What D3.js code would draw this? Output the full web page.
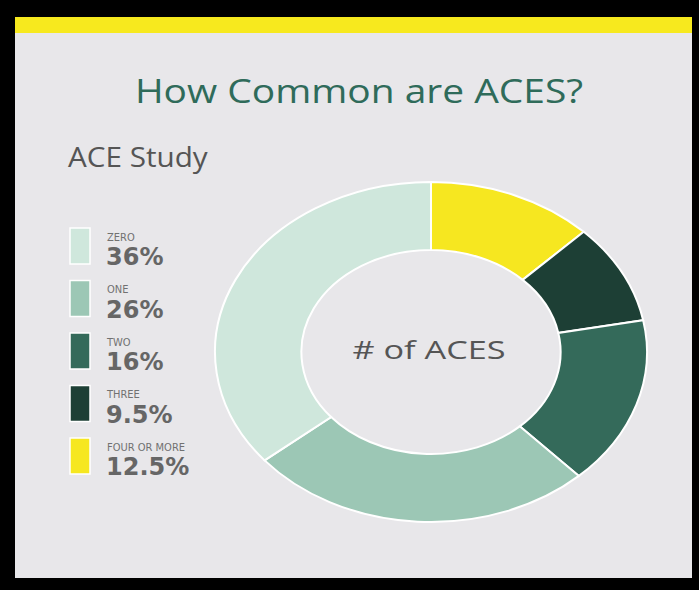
<!DOCTYPE html>
<html lang="en">
<head>
    <meta charset="UTF-8">
    <title>How Common are ACES?</title>
    <script src="https://cdnjs.cloudflare.com/ajax/libs/d3/7.8.5/d3.min.js"></script>
    <style>
        html, body { margin: 0; padding: 0; background: #000; }
        svg { display: block; }
        .title { font-family: "Open Sans", sans-serif; fill: #2f6b5a; }
        .subtitle { font-family: "Open Sans", sans-serif; fill: #555; }
        .leg-name { font-family: "DejaVu Sans", sans-serif; font-stretch: condensed; fill: #717171; }
        .leg-pct { font-family: "DejaVu Sans", sans-serif; font-weight: bold; fill: #666; }
        .center-label { font-family: "Open Sans", sans-serif; fill: #555; }
    </style>
</head>
<body>
    <div id="chart"></div>
    <script>
        // Data (legend order)
        const categories = ["ZERO", "ONE", "TWO", "THREE", "FOUR OR MORE"];
        const percents = [36, 26, 16, 9.5, 12.5];
        const pctLabels = ["36%", "26%", "16%", "9.5%", "12.5%"];
        const colors = ["#cfe7dc", "#9cc7b5", "#346a5a", "#1d3f35", "#f6e720"];
        // the ring starts at 12 o'clock with the last category and runs clockwise
        const ringOrder = [4, 3, 2, 1, 0];

        const width = 699, height = 590;

        const svg = d3.select("#chart").append("svg")
            .attr("width", width)
            .attr("height", height);

        // panel
        svg.append("rect")
            .attr("x", 0).attr("y", 0)
            .attr("width", width).attr("height", height)
            .attr("fill", "#000");
        svg.append("rect")
            .attr("x", 15).attr("y", 17)
            .attr("width", 677).attr("height", 561)
            .attr("fill", "#e8e7ea");
        svg.append("rect")
            .attr("x", 15).attr("y", 17)
            .attr("width", 677).attr("height", 16)
            .attr("fill", "#f7e91e");

        // titles (the original artwork is stretched sideways, so the text is too)
        svg.append("text")
            .attr("class", "title")
            .attr("transform", "translate(359,103) scale(1.18,1)")
            .attr("text-anchor", "middle")
            .attr("font-size", 33)
            .text("How Common are ACES?");

        svg.append("text")
            .attr("class", "subtitle")
            .attr("transform", "translate(68,167) scale(1.06,1)")
            .attr("font-size", 28)
            .text("ACE Study");

        // legend
        const legend = svg.append("g").attr("transform", "translate(70,228)");
        const rows = legend.selectAll("g")
            .data(categories)
            .enter().append("g")
            .attr("transform", (d, i) => `translate(0,${i * 52.5})`);

        rows.append("rect")
            .attr("width", 20).attr("height", 36)
            .attr("fill", (d, i) => colors[i])
            .attr("stroke", "#fff")
            .attr("stroke-width", 1.5);

        rows.append("text")
            .attr("class", "leg-name")
            .attr("x", 37).attr("y", 12.5)
            .attr("font-size", 11)
            .text(d => d);

        rows.append("text")
            .attr("class", "leg-pct")
            .attr("x", 36).attr("y", 37)
            .attr("font-size", 24)
            .text((d, i) => pctLabels[i]);

        // donut (drawn as a circle, stretched horizontally like the original)
        const cx = 431, cy = 352;
        const ry = 170, rx = 216;
        const ringData = ringOrder.map(i => ({ name: categories[i], value: percents[i], color: colors[i] }));

        const pie = d3.pie().sort(null).value(d => d.value);
        const arc = d3.arc().innerRadius(ry * 0.6).outerRadius(ry);

        const donut = svg.append("g")
            .attr("transform", `translate(${cx},${cy}) scale(${rx / ry},1)`);

        donut.selectAll("path")
            .data(pie(ringData))
            .enter().append("path")
            .attr("d", arc)
            .attr("fill", d => d.data.color)
            .attr("stroke", "#fff")
            .attr("stroke-width", 2)
            .attr("vector-effect", "non-scaling-stroke");

        svg.append("text")
            .attr("class", "center-label")
            .attr("transform", `translate(${cx - 2},359) scale(1.37,1)`)
            .attr("text-anchor", "middle")
            .attr("font-size", 25)
            .text("# of ACES");
    </script>
</body>
</html>
